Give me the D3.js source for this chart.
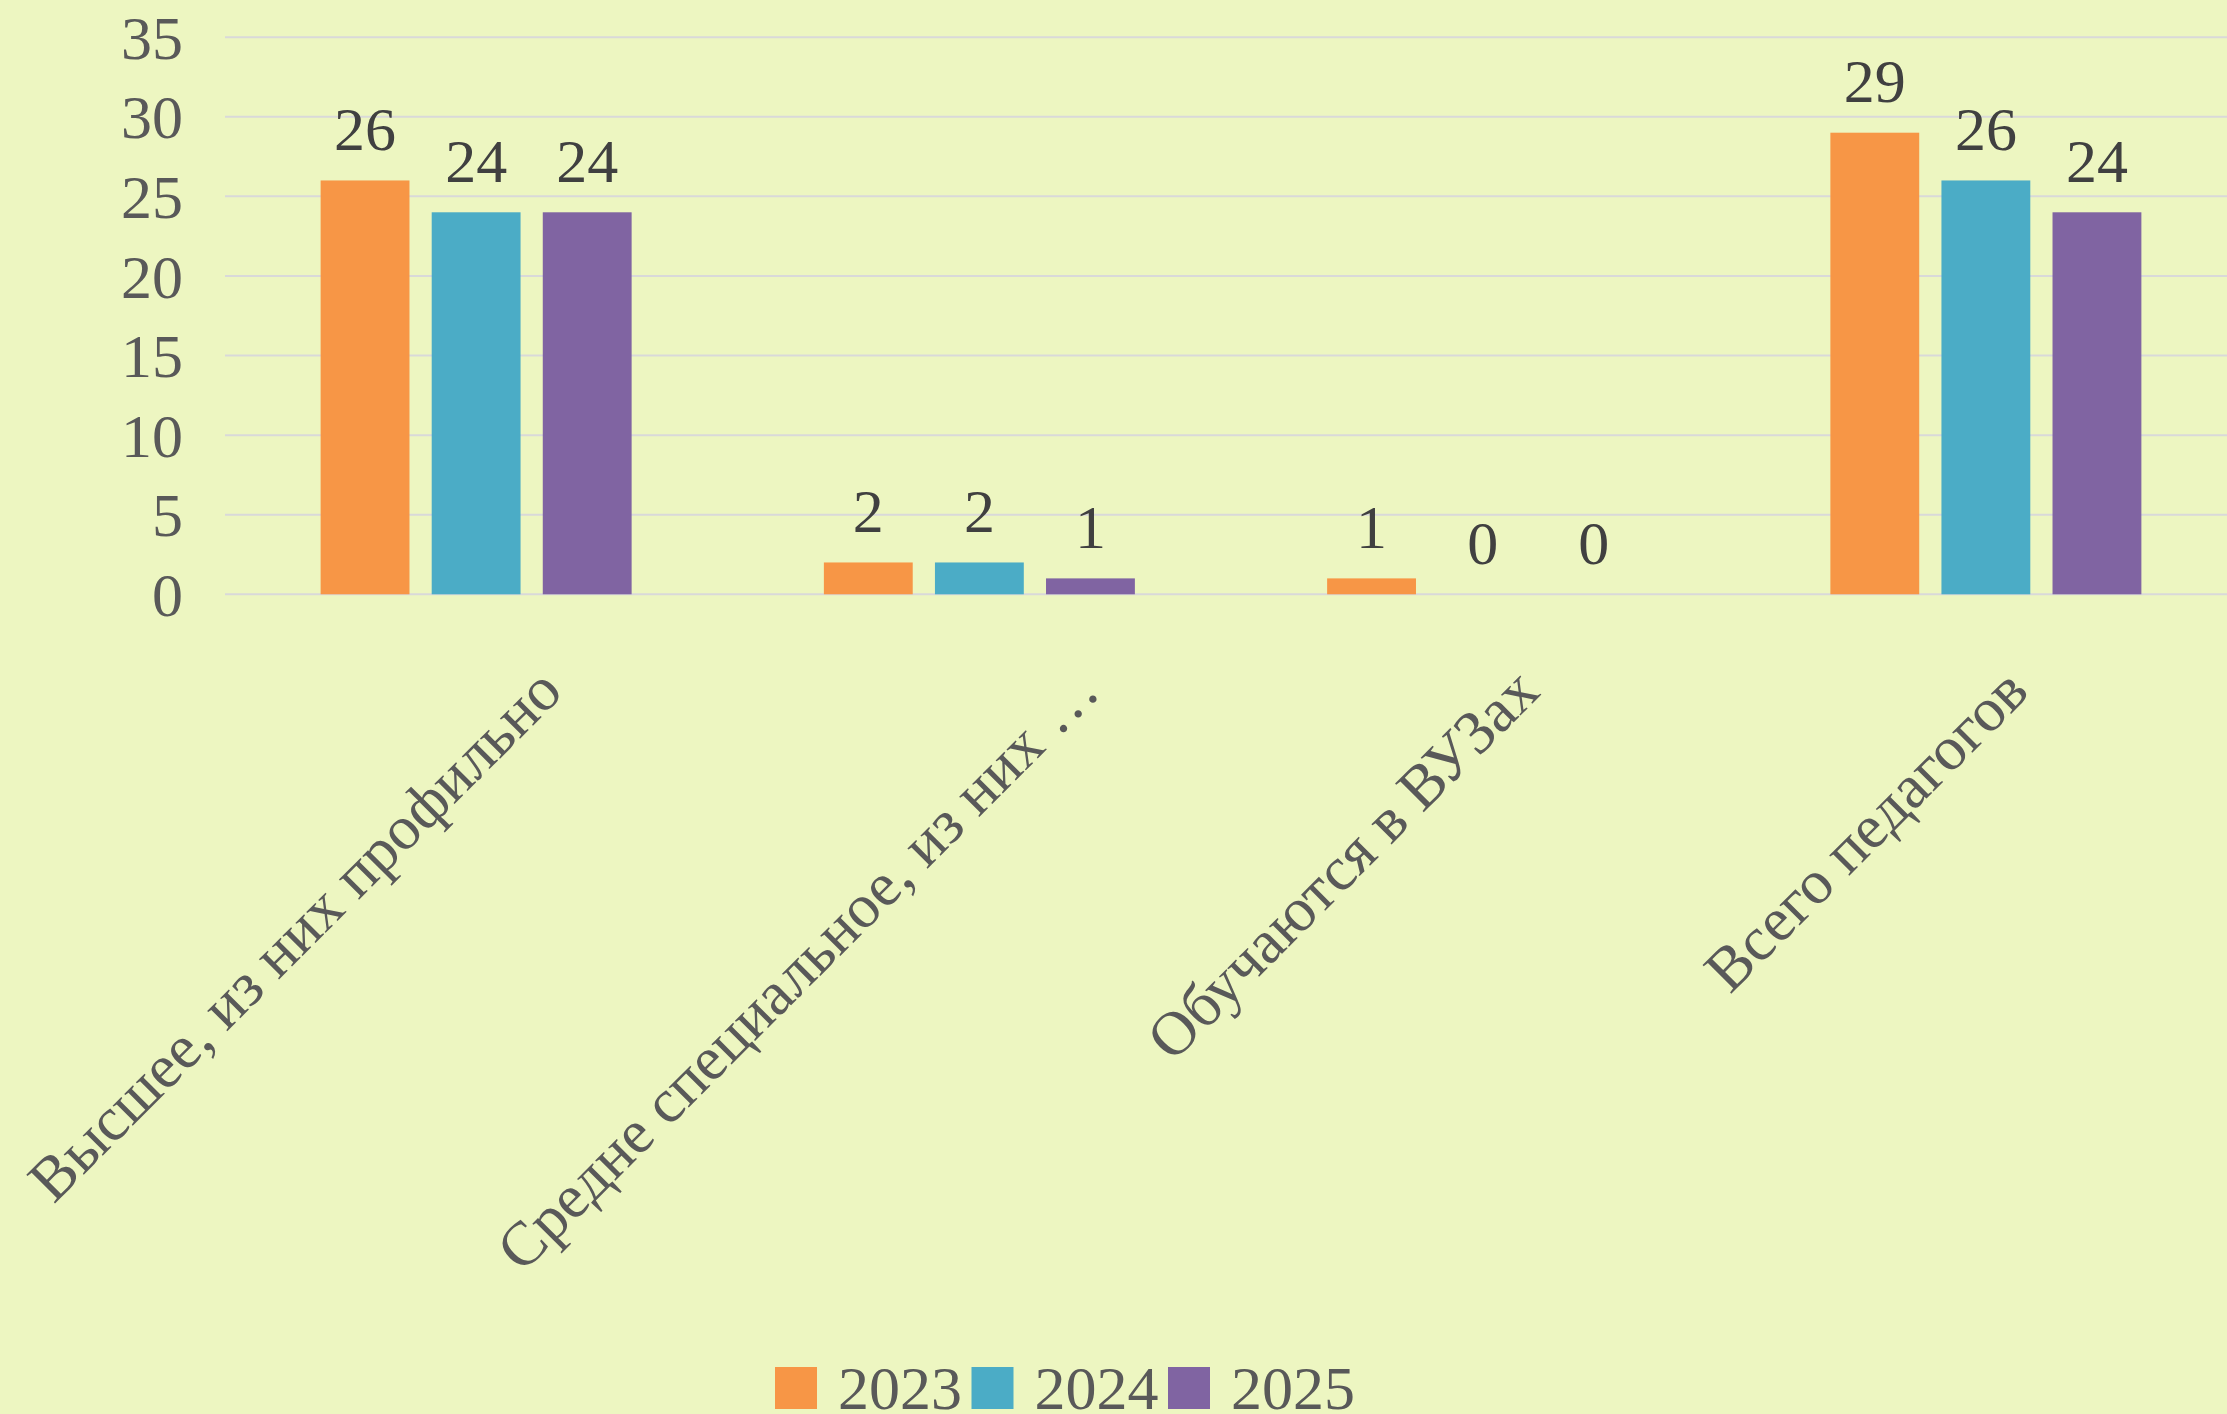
<!DOCTYPE html>
<html>
<head>
<meta charset="utf-8">
<script src="https://cdn.jsdelivr.net/npm/d3@7"></script>
<style>
  html, body { margin: 0; padding: 0; background: #EDF6C1; }
  svg { display: block; }
  text { font-family: "Liberation Serif", "Times New Roman", serif; }
</style>
</head>
<body>
<script>
const categories = [
  "Высшее, из них профильно",
  "Средне специальное, из них …",
  "Обучаются в ВУЗах",
  "Всего педагогов"
];
const seriesNames = ["2023", "2024", "2025"];
const values2023 = [26, 2, 1, 29];
const values2024 = [24, 2, 0, 26];
const values2025 = [24, 1, 0, 24];
const seriesColors = ["#F79646", "#4BACC6", "#8064A2"];
const yTicks = [0, 5, 10, 15, 20, 25, 30, 35];

const W = 2227, H = 1414;
const seriesValues = [values2023, values2024, values2025];

const svg = d3.select("body").append("svg").attr("width", W).attr("height", H);
svg.append("rect").attr("width", W).attr("height", H).attr("fill", "#EDF6C1");

const plotLeft = 224.5, plotRight = 2237.5;
const y = d3.scaleLinear().domain([0, 35]).range([594.3, 37.2]);
const x0 = d3.scaleBand().domain(categories).range([plotLeft, plotRight]).paddingInner(0).paddingOuter(0);
const groupWidth = 311;
const x1 = d3.scaleBand().domain(seriesNames).range([0, groupWidth]).paddingInner(0.2).paddingOuter(0);

// gridlines
svg.append("g").selectAll("line").data(yTicks).join("line")
  .attr("x1", 225).attr("x2", W)
  .attr("y1", d => y(d)).attr("y2", d => y(d))
  .attr("stroke", "#D9D9D9").attr("stroke-width", 2);

// y axis labels
const yAxis = d3.axisLeft(y).tickValues(yTicks).tickSize(0).tickPadding(0);
const yg = svg.append("g").attr("transform", "translate(183,0)").call(yAxis);
yg.select(".domain").remove();
yg.selectAll("text")
  .attr("font-family", "Liberation Serif")
  .attr("font-size", 62).attr("fill", "#595959")
  .attr("dy", "0.34em");

// bars
const data = [];
categories.forEach((c, ci) => seriesNames.forEach((s, si) => {
  data.push({ cat: c, series: s, value: seriesValues[si][ci], color: seriesColors[si] });
}));
const groupX = c => x0(c) + x0.bandwidth() / 2 - groupWidth / 2;

svg.append("g").selectAll("rect").data(data).join("rect")
  .attr("x", d => groupX(d.cat) + x1(d.series))
  .attr("width", x1.bandwidth())
  .attr("y", d => y(d.value))
  .attr("height", d => y(0) - y(d.value))
  .attr("fill", d => d.color);

// data labels
svg.append("g").selectAll("text").data(data).join("text")
  .attr("x", d => groupX(d.cat) + x1(d.series) + x1.bandwidth() / 2)
  .attr("y", d => y(d.value) - 30.5)
  .attr("text-anchor", "middle")
  .attr("font-size", 62).attr("fill", "#404040")
  .text(d => d.value);

// category labels (rotated -45)
const catG = svg.append("g");
catG.selectAll("text").data(categories).join("text")
  .attr("font-size", 62).attr("fill", "#595959")
  .attr("text-anchor", "end")
  .text(d => d)
  .each(function (d) {
    const L = this.getComputedTextLength();
    const cx = x0(d) + x0.bandwidth() / 2;
    const extra = d.endsWith("…") ? 20 : 0;
    const ex = cx + 0.146 * L - 17 + extra;
    const ey = 694;
    d3.select(this).attr("transform", `translate(${ex},${ey}) rotate(-45)`);
  });

// legend
const lx = d3.scaleBand().domain(seriesNames).range([775, 775 + 3 * 196.5]);
const leg = svg.append("g").selectAll("g").data(seriesNames).join("g")
  .attr("transform", d => `translate(${lx(d)},0)`);
leg.append("rect").attr("x", 0).attr("y", 1367).attr("width", 42).attr("height", 42)
  .attr("fill", (d, i) => seriesColors[i]);
leg.append("text").attr("x", 63).attr("y", 1409)
  .attr("font-size", 62).attr("fill", "#595959")
  .text(d => d);
</script>
</body>
</html>
